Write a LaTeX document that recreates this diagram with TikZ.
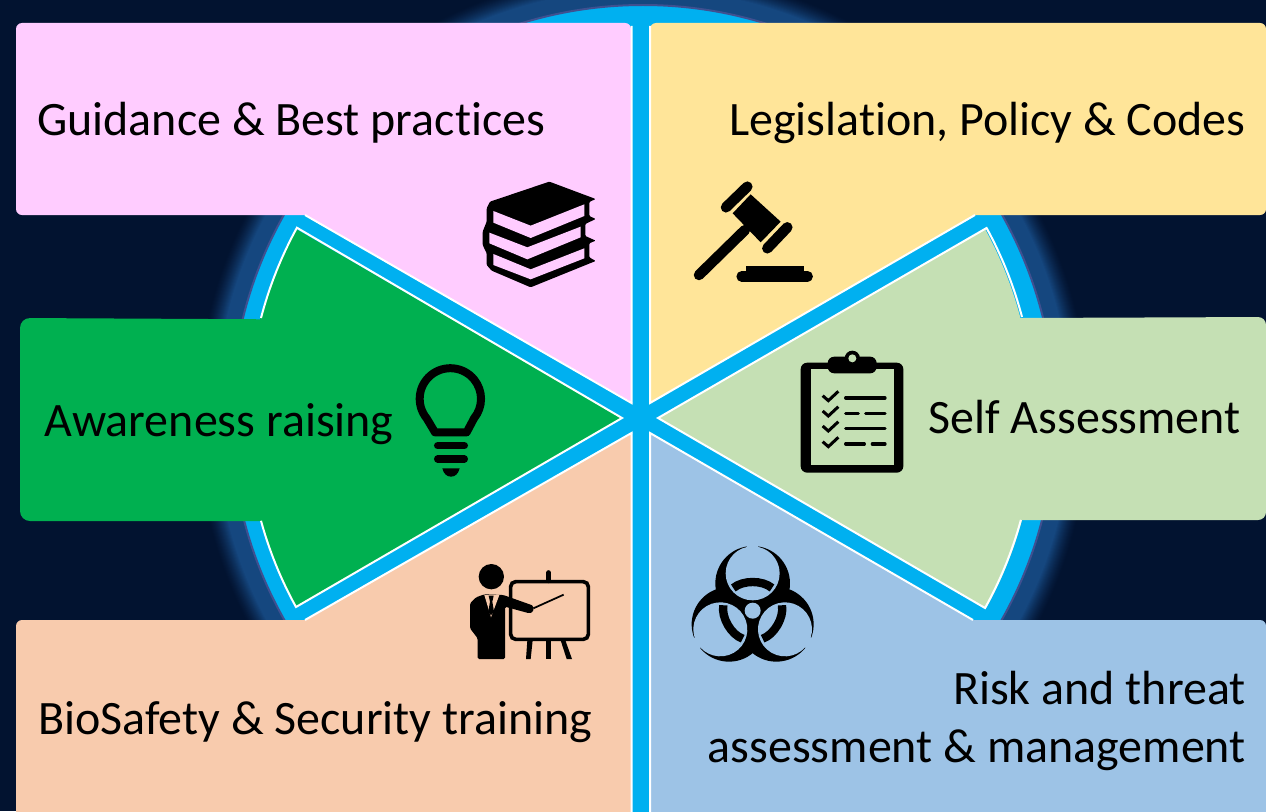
\documentclass[tikz,border=0pt]{standalone}
\usepackage{fontspec}
\setmainfont{Carlito}[Ligatures=NoCommon]
\definecolor{bgdark}{HTML}{021330}
\definecolor{glowblue}{HTML}{15477F}
\definecolor{ringedge}{HTML}{3F5090}
\definecolor{cyanbar}{HTML}{00B0F0}
\definecolor{cpink}{HTML}{FFCCFF}
\definecolor{cyellow}{HTML}{FFE599}
\definecolor{cgreen}{HTML}{00B050}
\definecolor{clgreen}{HTML}{C5E0B4}
\definecolor{cpeach}{HTML}{F8CBAD}
\definecolor{cblue}{HTML}{9DC3E6}
\tikzset{
  edgeline/.style={white,line width=0.04cm,line join=miter},
  lbl/.style={inner sep=0pt,font=\fontsize{27.3}{30}\selectfont,text=black},
  iconzoom/.style={x=0.02cm/3,y=-0.02cm/3},
}
\begin{document}
\begin{tikzpicture}[x=0.02cm,y=-0.02cm]
\useasboundingbox (0,0) rectangle (1266,811);
\fill[bgdark] (0,0) rectangle (1266,811);
\begin{scope}
\clip (0,0) rectangle (1266,811);
% glow
\foreach \r in {447,446,...,413}{
  \pgfmathsetmacro{\pct}{100*min(1,((447-\r)/19)^1.4)}
  \fill[glowblue!\pct!bgdark] (643,417) circle (\r);
}
\fill[cyanbar,draw=ringedge,line width=0.04cm] (643,417) circle (412);

% pink
\fill[cpink] (633,403) -- (305,215) [rounded corners=0.12cm] -- (16,215) -- (16,23) -- (631,23) [sharp corners] -- (631,402) -- cycle;
\draw[edgeline] (631.5,26) -- (631.5,403) -- (305,215);
% yellow
\fill[cyellow] (650,403) [rounded corners=0.12cm] -- (650,23) -- (1266,23) -- (1266,215) [sharp corners] -- (975,215) -- cycle;
\draw[edgeline] (975,215) -- (650,403) -- (650,26);
% peach
\fill[cpeach] (633,433) -- (305,620) [rounded corners=0.12cm] -- (16,620) [sharp corners] -- (16,820) -- (631,820) -- (631,433) -- cycle;
\draw[edgeline] (305,620) -- (631.5,433) -- (631.5,820);
% blue
\fill[cblue] (650,433) -- (650,820) -- (1266,820) [rounded corners=0.12cm] -- (1266,620) [sharp corners] -- (973,620) -- cycle;
\draw[edgeline] (973,620) -- (650,433) -- (650,820);
% green
\fill[cgreen] (622,418) -- (296,229) arc (208.8:194.6:393) [rounded corners=0.2cm] -- (20,318) -- (20,521) [sharp corners] -- (261,521) arc (164.7:151.1:393) -- cycle;
\draw[edgeline] (261,318) arc (194.6:208.8:393) -- (622,418) -- (296,607) arc (151.1:164.7:393);
% light green
\fill[clgreen] (658,418) -- (985,229) arc (-28.7:-14.7:393) [rounded corners=0.16cm] -- (1266,317) -- (1266,520) [sharp corners] -- (1022,520) arc (15.2:29.1:393) -- cycle;
\draw[edgeline] (1022,317) arc (-14.7:-28.7:393) -- (658,418) -- (985,608) arc (29.1:15.2:393);
\end{scope}

% books
\begin{scope}[shift={(440,0)},iconzoom]
\fill[black,rounded corners=0.02cm] (328,545) -- (467,597) -- (448,606) -- (448,648) -- (467,657) -- (436,672) -- (436,708) -- (467,722) -- (448,730) -- (448,772) -- (467,783) -- (272,862) -- (155,812) -- (140,795) -- (140,760) -- (128,735) -- (128,695) -- (140,665) -- (140,625) -- (150,605) -- cycle;
\fill[cpink] (160,633) -- (272,677) -- (433,613) -- (433,648) -- (272,714) -- (160,668) -- cycle;
\fill[cpink] (148,698) -- (262,742) -- (422,680) -- (422,712) -- (262,778) -- (148,730) -- cycle;
\fill[cpink] (160,762) -- (272,808) -- (433,745) -- (433,775) -- (272,838) -- (160,795) -- cycle;
\end{scope}

% gavel
\begin{scope}[shift={(440,0)},iconzoom]
\draw[black,line width=0.21cm,line cap=round] (777,825) -- (915,690);
\fill[black] (932,583) -- (1022,665) -- (962,727) -- (878,640) -- cycle;
\draw[black,line width=0.21cm,line cap=round] (858,622) -- (922,560);
\draw[black,line width=0.21cm,line cap=round] (982,745) -- (1042,682);
\draw[black,line width=0.21cm,line cap=round] (905,829) -- (1103,829);
\fill[black] (917,797) rectangle (1092,820);
\end{scope}

% bulb
\begin{scope}[shift={(200,200)},iconzoom]
\draw[black,line width=0.16cm,line join=round] (705,697) -- (680,655) arc (140.6:399.4:92) -- (800,697) -- cycle;
\draw[black,line width=0.147cm,line cap=round] (713,737) -- (793,737);
\draw[black,line width=0.147cm,line cap=round] (713,777) -- (793,777);
\fill[black] (727,805) -- (779,805) .. controls (775,822) and (765,830) .. (753,830) .. controls (741,830) and (731,822) .. (727,805) -- cycle;
\end{scope}

% clipboard
\begin{scope}[shift={(780,330)},iconzoom]
\fill[black,rounded corners=0.13cm] (62,98) rectangle (370,428);
\fill[clgreen] (92,118) rectangle (342,405);
\fill[black,rounded corners=0.13cm] (143,80) rectangle (290,130);
\fill[black] (217,85) circle (23);
\fill[clgreen] (217,85) circle (12);
\foreach \yy in {197,243,288,335}{
  \draw[black,line width=0.06cm,line join=miter] (128,\yy) -- (145,\yy+15) -- (175,\yy-13);
}
\tikzset{cl/.style={black,line width=0.065cm,line cap=round}}
\draw[cl] (197,204) -- (315,204);
\draw[cl] (197,250) -- (235,250);
\draw[cl] (257,250) -- (315,250);
\draw[cl] (197,296) -- (315,296);
\draw[cl] (197,342) -- (253,342);
\draw[cl] (277,342) -- (315,342);
\end{scope}

% presenter
\begin{scope}[shift={(440,540)},iconzoom]
\draw[black,line width=0.073cm,rounded corners=0.1cm] (212,125) rectangle (445,298);
\draw[black,line width=0.1cm,line cap=round] (326,98) -- (326,122);
\fill[black] (262,301) -- (278,301) -- (272,357) -- (258,357) -- cycle;
\fill[black] (318,301) -- (334,301) -- (334,357) -- (318,357) -- cycle;
\fill[black] (362,301) -- (376,301) -- (396,357) -- (380,357) -- cycle;
\draw[black,line width=0.035cm] (280,205) -- (371,164);
\fill[black] (154,110) circle (38);
\fill[black,rounded corners=0.03cm] (108,172) -- (133,163) -- (190,165) -- (280,197) -- (280,215) -- (268,220) -- (195,200) -- (195,357) -- (113,357) -- (113,295) -- (90,265) -- (90,190) -- cycle;
\fill[cpeach] (133,165) -- (153,232) -- (178,165) -- cycle;
\fill[black] (146,167) -- (161,167) -- (157,185) -- (162,215) -- (153,226) -- (145,215) -- (150,185) -- cycle;
\end{scope}

% biohazard
\begin{scope}[shift={(440,540)},iconzoom]
\begin{scope}[shift={(938,212)}]
\foreach \a in {0,120,240}{\fill[black,rotate=\a] (0,-82) circle (112);}
\foreach \a in {0,120,240}{\fill[cblue,rotate=\a] (0,-112) circle (81);}
\foreach \a in {0,120,240}{\fill[cblue,rotate=\a] (-17,-200) rectangle (17,-175);}
\fill[cblue] (0,0) circle (24);
\foreach \a in {0,120,240}{
  \draw[black,line width=0.167cm,rotate=\a] (-58,-68) .. controls (-30,-92) and (30,-92) .. (58,-68);
}
\end{scope}
\end{scope}

% labels
\node[lbl,anchor=base west] (guidance) at (37,135.5) {Guidance \& Best practices};
\node[lbl,anchor=base east] (legis) at (1246,135.5) {Legislation, Policy \& Codes};
\node[lbl,anchor=base west] (aware) at (44,436.5) {Awareness raising};
\node[lbl,anchor=base east] (selfa) at (1241,433.5) {Self Assessment};
\node[lbl,anchor=base west] (biosafe) at (38,734.5) {BioSafety \& Security training};
\node[lbl,anchor=base east] (risk) at (1246,704) {Risk and threat};
\node[lbl,anchor=base east] (assess) at (1246,762) {assessment \& management};
\end{tikzpicture}
\end{document}
